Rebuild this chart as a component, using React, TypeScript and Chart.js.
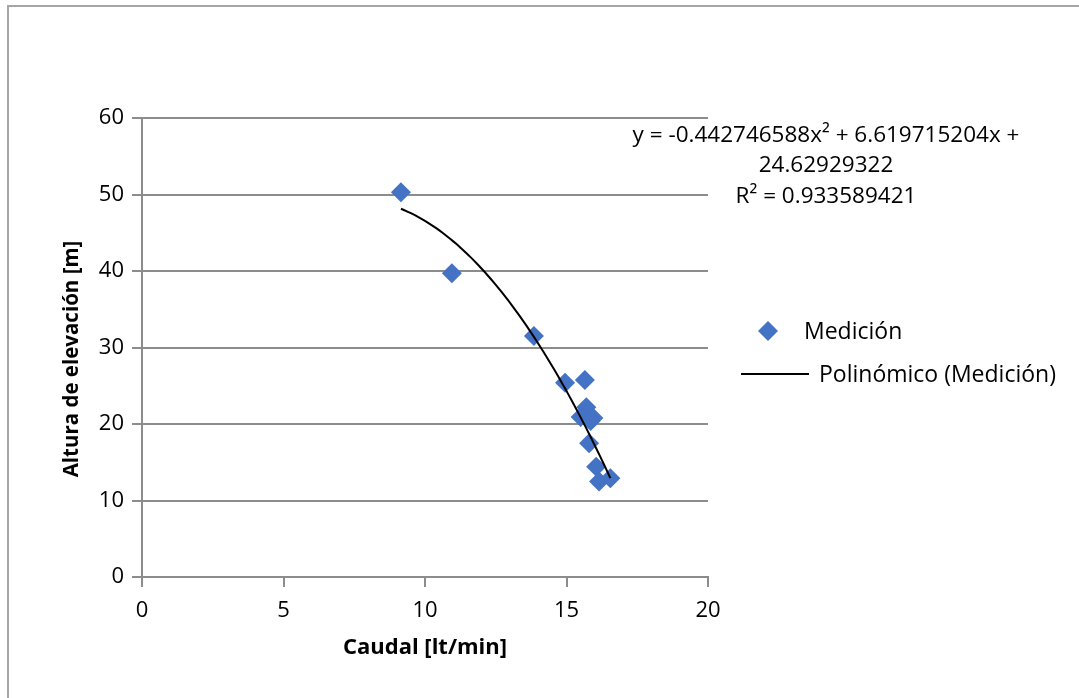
import React, { useEffect, useRef } from "react";
import { Chart, registerables } from "chart.js";

Chart.register(...registerables);

// Measured points: Caudal [lt/min] vs Altura de elevación [m]
const caudal = [9.15, 10.95, 13.85, 14.95, 15.65, 15.7, 15.5, 15.95, 15.85, 15.8, 16.05, 16.15, 16.55];
const altura = [50.3, 39.7, 31.5, 25.4, 25.75, 22.2, 20.9, 20.8, 20.4, 17.5, 14.4, 12.5, 12.9];

// Polynomial trendline coefficients (as printed on the chart)
const coefA = -0.442746588;
const coefB = 6.619715204;
const coefC = 24.62929322;

const xTicks = [0, 5, 10, 15, 20];
const yTicks = [0, 10, 20, 30, 40, 50, 60];

const equationLines = ["y = -0.442746588x² + 6.619715204x +", "24.62929322", "R² = 0.933589421"];
const legendLabels = ["Medición", "Polinómico (Medición)"];
const yTitle = "Altura de elevación [m]";
const xTitle = "Caudal [lt/min]";

const FONT = "'Open Sans', sans-serif";
const BLUE = "#4472C4";

export default function App() {
  const ref = useRef<HTMLCanvasElement | null>(null);

  useEffect(() => {
    const xMin = Math.min(...caudal);
    const xMax = Math.max(...caudal);
    const trend: { x: number; y: number }[] = [];
    const n = 60;
    for (let i = 0; i <= n; i++) {
      const x = xMin + ((xMax - xMin) * i) / n;
      trend.push({ x, y: coefA * x * x + coefB * x + coefC });
    }

    const overlay = {
      id: "overlay",
      afterDraw(chart: any) {
        const ctx = chart.ctx;
        ctx.save();
        ctx.fillStyle = "#000";
        ctx.font = `22.5px ${FONT}`;
        ctx.textBaseline = "middle";
        ctx.textAlign = "center";
        const eqY = [136, 166, 197];
        equationLines.forEach((t, i) => ctx.fillText(t, 826, eqY[i]));

        // legend
        ctx.textAlign = "left";
        ctx.fillStyle = BLUE;
        const dx = 768, dy = 331, r = 10;
        ctx.beginPath();
        ctx.moveTo(dx, dy - r);
        ctx.lineTo(dx + r, dy);
        ctx.lineTo(dx, dy + r);
        ctx.lineTo(dx - r, dy);
        ctx.closePath();
        ctx.fill();
        ctx.fillStyle = "#000";
        ctx.font = `23px ${FONT}`;
        ctx.fillText(legendLabels[0], 804, 332);
        ctx.strokeStyle = "#000";
        ctx.lineWidth = 2;
        ctx.beginPath();
        ctx.moveTo(741, 374);
        ctx.lineTo(809, 374);
        ctx.stroke();
        ctx.fillText(legendLabels[1], 819, 375);

        // y axis title
        ctx.font = `bold 20.5px ${FONT}`;
        ctx.textAlign = "center";
        ctx.translate(72, 359);
        ctx.rotate(-Math.PI / 2);
        ctx.fillText(yTitle, 0, 0);
        ctx.restore();
      },
    };

    const chart = new Chart(ref.current as HTMLCanvasElement, {
      type: "scatter",
      data: {
        datasets: [
          {
            label: legendLabels[0],
            data: caudal.map((x, i) => ({ x, y: altura[i] })),
            pointStyle: "rectRot",
            pointRadius: 10,
            pointBackgroundColor: BLUE,
            pointBorderColor: BLUE,
            pointBorderWidth: 0,
            showLine: false,
            order: 2,
          },
          {
            label: legendLabels[1],
            data: trend,
            showLine: true,
            borderColor: "#000",
            borderWidth: 2,
            pointRadius: 0,
            tension: 0,
            order: 1,
          },
        ],
      },
      options: {
        responsive: false,
        animation: false,
        layout: { padding: { left: 50, right: 371, top: 118, bottom: 20 } },
        plugins: { legend: { display: false }, tooltip: { enabled: false } },
        scales: {
          x: {
            type: "linear",
            min: 0,
            max: 20,
            afterBuildTicks: (s: any) => {
              s.ticks = xTicks.map((v) => ({ value: v }));
            },
            afterFit: (s: any) => {
              s.height = 101;
            },
            grid: { drawOnChartArea: false, drawTicks: true, tickLength: 10, color: "#8c8c8c", lineWidth: 2 },
            border: { display: true, color: "#8c8c8c", width: 2 },
            ticks: { color: "#000", font: { family: FONT, size: 22 }, padding: 11, maxRotation: 0 },
            title: {
              display: true,
              text: xTitle,
              color: "#000",
              font: { family: FONT, size: 22, weight: "bold" },
              padding: { top: 0, bottom: 17 },
            },
          },
          y: {
            type: "linear",
            min: 0,
            max: 60,
            afterBuildTicks: (s: any) => {
              s.ticks = yTicks.map((v) => ({ value: v }));
            },
            afterFit: (s: any) => {
              s.width = 92;
            },
            grid: { drawTicks: true, tickLength: 10, color: "#8c8c8c", lineWidth: 2 },
            border: { display: true, color: "#8c8c8c", width: 2 },
            ticks: { color: "#000", font: { family: FONT, size: 22 }, padding: 8 },
            title: { display: false },
          },
        },
      },
      plugins: [overlay],
    } as any);

    return () => chart.destroy();
  }, []);

  return (
    <div style={{ position: "absolute", left: 0, top: 0, width: 1079, height: 698, background: "#fff", overflow: "hidden" }}>
      <canvas ref={ref} width={1079} height={698} style={{ position: "absolute", left: 0, top: 0 }} />
      <div
        style={{
          position: "absolute",
          left: 7,
          top: 5,
          width: 1200,
          height: 800,
          borderTop: "2px solid #a6a6a6",
          borderLeft: "2px solid #a6a6a6",
          pointerEvents: "none",
        }}
      />
    </div>
  );
}
